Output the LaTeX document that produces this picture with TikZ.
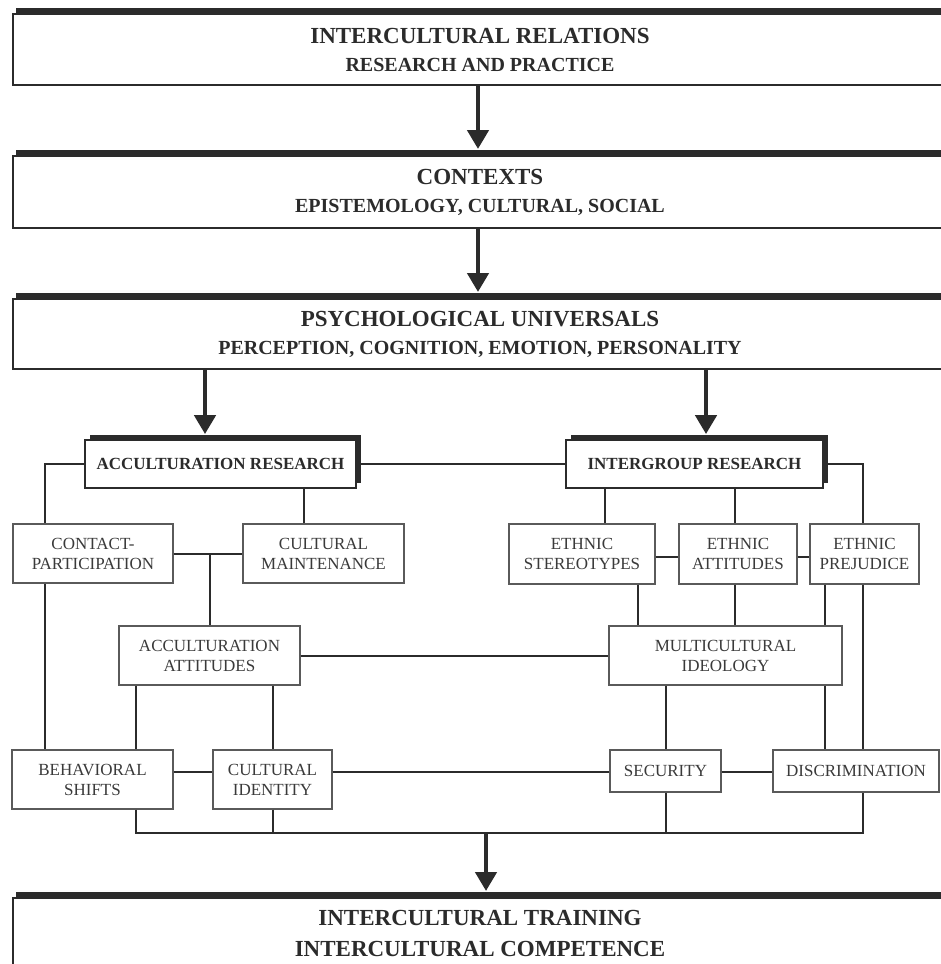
\documentclass[tikz,border=0pt]{standalone}
\usepackage{fontspec}
\setmainfont{Liberation Serif}
\usetikzlibrary{arrows.meta,shadows}
\definecolor{ink}{HTML}{2B2B2B}
\definecolor{boxline}{HTML}{5A5A5A}
\definecolor{txt}{HTML}{3A3A3A}
\tikzset{
 bigbox/.style={draw=ink, line width=2pt, fill=white, minimum width=934pt, align=center, inner sep=0pt,
   font=\fontsize{23}{28}\selectfont\bfseries, text=ink,
   drop shadow={shadow xshift=3pt, shadow yshift=6pt, fill=ink, opacity=1}},
 smallbox/.style={draw=boxline, line width=1.4pt, fill=white, align=center, inner sep=0pt,
   font=\fontsize{17}{20}\selectfont, text=txt},
 resbox/.style={draw=ink, line width=1.8pt, fill=white, inner sep=0pt,
   font=\fontsize{17}{20}\selectfont\bfseries, text=ink,
   drop shadow={shadow xshift=5pt, shadow yshift=5pt, fill=ink, opacity=1}},
 link/.style={draw=ink, line width=2pt},
 bigarrow/.style={draw=ink, line width=4.5pt, -{Triangle[width=21pt,length=19pt]}},
}
\begin{document}
\begin{tikzpicture}[x=1pt,y=-1pt]
\useasboundingbox (0,0) rectangle (941,964);
\fill[white] (0,0) rectangle (941,964);
\clip (0,0) rectangle (941,964);

% big boxes
\node[bigbox, minimum height=71pt] (B1) at (480,49.5) {INTERCULTURAL RELATIONS\\{\fontsize{20}{28}\selectfont RESEARCH AND PRACTICE}};
\node[bigbox, minimum height=72pt] (B2) at (480,192) {CONTEXTS\\{\fontsize{20}{28}\selectfont EPISTEMOLOGY, CULTURAL, SOCIAL}};
\node[bigbox, minimum height=70pt] (B3) at (480,334) {PSYCHOLOGICAL UNIVERSALS\\{\fontsize{20}{28}\selectfont PERCEPTION, COGNITION, EMOTION, PERSONALITY}};
\node[bigbox, minimum height=70pt, font=\fontsize{23}{31}\selectfont\bfseries] (B4) at (480,933) {INTERCULTURAL TRAINING\\INTERCULTURAL COMPETENCE};

% research boxes
\node[resbox, minimum width=271pt, minimum height=48pt] (AR) at (220.5,464) {ACCULTURATION RESEARCH};
\node[resbox, minimum width=257pt, minimum height=48pt] (IR) at (694.5,464) {INTERGROUP RESEARCH};

% small boxes
\node[smallbox, minimum width=160pt, minimum height=59pt] (CP) at (93,553.5) {CONTACT-\\PARTICIPATION};
\node[smallbox, minimum width=161pt, minimum height=59pt] (CM) at (323.5,553.5) {CULTURAL\\MAINTENANCE};
\node[smallbox, minimum width=181pt, minimum height=59pt] (AA) at (209.5,655.5) {ACCULTURATION\\ATTITUDES};
\node[smallbox, minimum width=161pt, minimum height=59pt] (BS) at (92.5,779.5) {BEHAVIORAL\\SHIFTS};
\node[smallbox, minimum width=119pt, minimum height=59pt] (CI) at (272.5,779.5) {CULTURAL\\IDENTITY};
\node[smallbox, minimum width=146pt, minimum height=60pt] (ES) at (582,554) {ETHNIC\\STEREOTYPES};
\node[smallbox, minimum width=118pt, minimum height=60pt] (EA) at (738,554) {ETHNIC\\ATTITUDES};
\node[smallbox, minimum width=109pt, minimum height=60pt] (EP) at (864.5,554) {ETHNIC\\PREJUDICE};
\node[smallbox, minimum width=233pt, minimum height=59pt] (MI) at (725.5,655.5) {MULTICULTURAL\\IDEOLOGY};
\node[smallbox, minimum width=111pt, minimum height=42pt] (SEC) at (665.5,771) {SECURITY};
\node[smallbox, minimum width=166pt, minimum height=42pt] (DIS) at (856,771) {DISCRIMINATION};

% helper coordinates
\coordinate (x45) at (45,0);
\coordinate (x304) at (304,0);
\coordinate (x136) at (136,0);
\coordinate (x605) at (605,0);
\coordinate (x735) at (735,0);
\coordinate (x863) at (863,0);
\coordinate (x638) at (638,0);
\coordinate (x825) at (825,0);
\coordinate (y772) at (0,772);
\coordinate (y557) at (0,557);
\coordinate (busL) at (136,833);
\coordinate (busR) at (863,833);
\coordinate (xa) at (478,0);
\coordinate (xl) at (205,0);
\coordinate (xr) at (706,0);
\coordinate (xb) at (486,0);
\coordinate (B2t) at ([yshift=6pt]B2.north);
\coordinate (B3t) at ([yshift=6pt]B3.north);
\coordinate (B4t) at ([yshift=6pt]B4.north);
\coordinate (ARt) at ([yshift=5pt]AR.north);
\coordinate (IRt) at ([yshift=5pt]IR.north);

% big arrows
\draw[bigarrow] (B1.south -| xa) -- (B2t -| xa);
\draw[bigarrow] (B2.south -| xa) -- (B3t -| xa);
\draw[bigarrow] (B3.south -| xl) -- (ARt -| xl);
\draw[bigarrow] (B3.south -| xr) -- (IRt -| xr);
\draw[bigarrow] (busL -| xb) -- (B4t -| xb);

% acculturation side
\draw[link] (AR.west) -| (x45 |- CP.north);
\draw[link] (AR.east) -- (IR.west);
\draw[link] (AR.south -| x304) -- (CM.north -| x304);
\draw[link] (CP.east) -- (CM.west);
\draw[link] (CP.east -| AA.north) -- (AA.north);
\draw[link] (AA.east) -- (MI.west);
\draw[link] (x45 |- CP.south) -- (x45 |- BS.north);
\draw[link] (x136 |- AA.south) -- (x136 |- BS.north);
\draw[link] (CI.north |- AA.south) -- (CI.north);
\draw[link] (BS.east |- y772) -- (CI.west |- y772);
\draw[link] (CI.east |- y772) -- (SEC.west |- y772);
\draw[link] (SEC.east |- y772) -- (DIS.west |- y772);
\draw[link] (x136 |- BS.south) -- (busL) -- (busR) -- (x863 |- DIS.south);
\draw[link] (CI.south) -- (CI.south |- busL);
\draw[link] (SEC.south) -- (SEC.south |- busL);

% intergroup side
\draw[link] (x605 |- IR.south) -- (x605 |- ES.north);
\draw[link] (x735 |- IR.south) -- (x735 |- EA.north);
\draw[link] (IR.east) -| (x863 |- EP.north);
\draw[link] (ES.east |- y557) -- (EA.west |- y557);
\draw[link] (EA.east |- y557) -- (EP.west |- y557);
\draw[link] (x638 |- ES.south) -- (x638 |- MI.north);
\draw[link] (x735 |- EA.south) -- (x735 |- MI.north);
\draw[link] (x825 |- EP.south) -- (x825 |- MI.north);
\draw[link] (x863 |- EP.south) -- (x863 |- DIS.north);
\draw[link] (SEC.north |- MI.south) -- (SEC.north);
\draw[link] (x825 |- MI.south) -- (x825 |- DIS.north);
\end{tikzpicture}
\end{document}
